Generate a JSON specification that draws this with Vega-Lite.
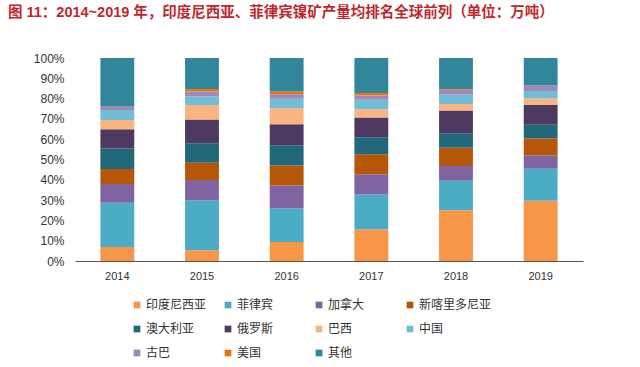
{
  "$schema": "https://vega.github.io/schema/vega-lite/v6.json",
  "autosize": {"type": "none"},
  "width": 508,
  "height": 203,
  "padding": {"left": 75, "top": 58, "right": 57, "bottom": 106},
  "background": "white",
  "config": {"view": {"stroke": null}, "font": "Liberation Sans, Noto Sans CJK SC"},
  "title": {
    "text": "图 11：2014~2019 年，印度尼西亚、菲律宾镍矿产量均排名全球前列（单位：万吨）",
    "anchor": "start",
    "frame": "group",
    "dx": -67,
    "offset": 32,
    "fontSize": 14.5,
    "fontWeight": "bold",
    "color": "#C0282D",
    "font": "Liberation Sans, Noto Sans CJK SC"
  },
  "data": {
    "values": [
      {"year": "2014", "country": "印度尼西亚", "k": 1, "v": 6.9},
      {"year": "2014", "country": "菲律宾", "k": 2, "v": 21.8},
      {"year": "2014", "country": "加拿大", "k": 3, "v": 9.2},
      {"year": "2014", "country": "新喀里多尼亚", "k": 4, "v": 7.4},
      {"year": "2014", "country": "澳大利亚", "k": 5, "v": 10.1},
      {"year": "2014", "country": "俄罗斯", "k": 6, "v": 9.5},
      {"year": "2014", "country": "巴西", "k": 7, "v": 4.6},
      {"year": "2014", "country": "中国", "k": 8, "v": 4.9},
      {"year": "2014", "country": "古巴", "k": 9, "v": 1.5},
      {"year": "2014", "country": "美国", "k": 10, "v": 0.2},
      {"year": "2014", "country": "其他", "k": 11, "v": 23.9},
      {"year": "2015", "country": "印度尼西亚", "k": 1, "v": 5.3},
      {"year": "2015", "country": "菲律宾", "k": 2, "v": 24.5},
      {"year": "2015", "country": "加拿大", "k": 3, "v": 10.1},
      {"year": "2015", "country": "新喀里多尼亚", "k": 4, "v": 8.5},
      {"year": "2015", "country": "澳大利亚", "k": 5, "v": 9.6},
      {"year": "2015", "country": "俄罗斯", "k": 6, "v": 11.7},
      {"year": "2015", "country": "巴西", "k": 7, "v": 7.2},
      {"year": "2015", "country": "中国", "k": 8, "v": 4.1},
      {"year": "2015", "country": "古巴", "k": 9, "v": 2.5},
      {"year": "2015", "country": "美国", "k": 10, "v": 1.2},
      {"year": "2015", "country": "其他", "k": 11, "v": 15.3},
      {"year": "2016", "country": "印度尼西亚", "k": 1, "v": 9.4},
      {"year": "2016", "country": "菲律宾", "k": 2, "v": 16.6},
      {"year": "2016", "country": "加拿大", "k": 3, "v": 11.2},
      {"year": "2016", "country": "新喀里多尼亚", "k": 4, "v": 9.9},
      {"year": "2016", "country": "澳大利亚", "k": 5, "v": 9.9},
      {"year": "2016", "country": "俄罗斯", "k": 6, "v": 10.4},
      {"year": "2016", "country": "巴西", "k": 7, "v": 7.9},
      {"year": "2016", "country": "中国", "k": 8, "v": 4.6},
      {"year": "2016", "country": "古巴", "k": 9, "v": 2.3},
      {"year": "2016", "country": "美国", "k": 10, "v": 1.3},
      {"year": "2016", "country": "其他", "k": 11, "v": 16.5},
      {"year": "2017", "country": "印度尼西亚", "k": 1, "v": 15.7},
      {"year": "2017", "country": "菲律宾", "k": 2, "v": 17.1},
      {"year": "2017", "country": "加拿大", "k": 3, "v": 9.9},
      {"year": "2017", "country": "新喀里多尼亚", "k": 4, "v": 9.9},
      {"year": "2017", "country": "澳大利亚", "k": 5, "v": 8.4},
      {"year": "2017", "country": "俄罗斯", "k": 6, "v": 9.7},
      {"year": "2017", "country": "巴西", "k": 7, "v": 4.1},
      {"year": "2017", "country": "中国", "k": 8, "v": 4.6},
      {"year": "2017", "country": "古巴", "k": 9, "v": 2.1},
      {"year": "2017", "country": "美国", "k": 10, "v": 1.2},
      {"year": "2017", "country": "其他", "k": 11, "v": 17.3},
      {"year": "2018", "country": "印度尼西亚", "k": 1, "v": 25.0},
      {"year": "2018", "country": "菲律宾", "k": 2, "v": 14.5},
      {"year": "2018", "country": "加拿大", "k": 3, "v": 7.3},
      {"year": "2018", "country": "新喀里多尼亚", "k": 4, "v": 9.0},
      {"year": "2018", "country": "澳大利亚", "k": 5, "v": 7.1},
      {"year": "2018", "country": "俄罗斯", "k": 6, "v": 11.2},
      {"year": "2018", "country": "巴西", "k": 7, "v": 3.3},
      {"year": "2018", "country": "中国", "k": 8, "v": 4.5},
      {"year": "2018", "country": "古巴", "k": 9, "v": 2.4},
      {"year": "2018", "country": "美国", "k": 10, "v": 0.4},
      {"year": "2018", "country": "其他", "k": 11, "v": 15.3},
      {"year": "2019", "country": "印度尼西亚", "k": 1, "v": 29.7},
      {"year": "2019", "country": "菲律宾", "k": 2, "v": 15.8},
      {"year": "2019", "country": "加拿大", "k": 3, "v": 6.6},
      {"year": "2019", "country": "新喀里多尼亚", "k": 4, "v": 8.2},
      {"year": "2019", "country": "澳大利亚", "k": 5, "v": 6.8},
      {"year": "2019", "country": "俄罗斯", "k": 6, "v": 9.7},
      {"year": "2019", "country": "巴西", "k": 7, "v": 3.3},
      {"year": "2019", "country": "中国", "k": 8, "v": 3.6},
      {"year": "2019", "country": "古巴", "k": 9, "v": 2.7},
      {"year": "2019", "country": "美国", "k": 10, "v": 0.1},
      {"year": "2019", "country": "其他", "k": 11, "v": 13.5}
    ]
  },
  "mark": {"type": "bar"},
  "encoding": {
    "x": {
      "field": "year",
      "type": "nominal",
      "scale": {"paddingInner": 0.6, "paddingOuter": 0.3},
      "axis": {
        "title": null,
        "labelAngle": 0,
        "labelFontSize": 11,
        "labelColor": "#333333",
        "labelPadding": 9,
        "ticks": false,
        "domainColor": "#555555",
        "domainWidth": 1
      }
    },
    "y": {
      "field": "v",
      "type": "quantitative",
      "stack": "normalize",
      "scale": {"domain": [0, 1]},
      "axis": {
        "title": null,
        "format": ".0%",
        "values": [0, 0.1, 0.2, 0.3, 0.4, 0.5, 0.6, 0.7, 0.8, 0.9, 1],
        "grid": false,
        "domain": false,
        "ticks": false,
        "labelFontSize": 12,
        "labelColor": "#333333",
        "labelPadding": 11
      }
    },
    "order": {"field": "k", "type": "quantitative", "sort": "ascending"},
    "color": {
      "field": "country",
      "type": "nominal",
      "scale": {
        "domain": ["印度尼西亚", "菲律宾", "加拿大", "新喀里多尼亚", "澳大利亚", "俄罗斯", "巴西", "中国", "古巴", "美国", "其他"],
        "range": ["#F79646", "#4BACC6", "#8064A2", "#B65708", "#21687A", "#4E3A61", "#F9B47F", "#70BDD6", "#9F89BB", "#E5750F", "#31869B"]
      },
      "legend": {
        "title": null,
        "orient": "none",
        "legendX": 56,
        "legendY": 241,
        "direction": "horizontal",
        "columns": 4,
        "gridAlign": "all",
        "columnPadding": 3,
        "rowPadding": 12,
        "symbolType": "square",
        "symbolSize": 45,
        "symbolStrokeWidth": 0,
        "labelFontSize": 12,
        "labelColor": "#333333",
        "labelOffset": 3,
        "font": "Noto Sans CJK SC",
        "labelFont": "Noto Sans CJK SC"
      }
    }
  }
}
